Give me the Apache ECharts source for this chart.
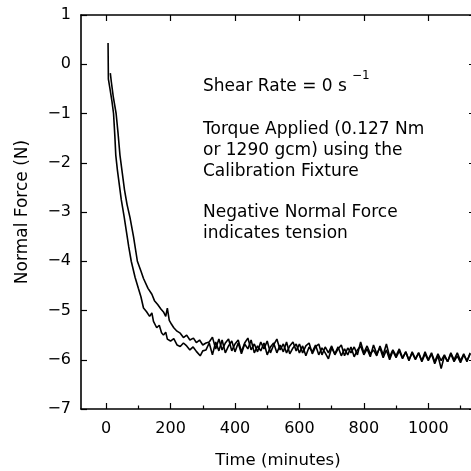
<!DOCTYPE html>
<html>
<head>
<meta charset="utf-8">
<script src="https://cdn.jsdelivr.net/npm/echarts@6/dist/echarts.min.js"></script>
<style>html,body{margin:0;padding:0;background:#fff;}#c{width:471px;height:471px;}</style>
</head>
<body>
<div id="c"></div>
<script>
// ---- Data ----
const xTicks = [0, 200, 400, 600, 800, 1000];
const xMinorTicks = [100, 300, 500, 700, 900, 1100];
const yTicks = [-7, -6, -5, -4, -3, -2, -1, 0, 1];

// Curve A: faster decay (lower curve during the transient)
const curveA = [
  [6,0.43],[7,-0.3],[12,-0.5],[18,-0.75],[23,-1.0],[27,-1.45],[30,-1.85],[35,-2.15],[40,-2.4],[47,-2.75],
  [56,-3.1],[63,-3.4],[70,-3.7],[78,-4.0],[90,-4.33],[100,-4.55],[108,-4.72],[116,-4.95],[125,-5.02],[135,-5.12],
  [142,-5.05],[147,-5.22],[157,-5.35],[165,-5.3],[172,-5.45],[178,-5.5],[185,-5.44],[190,-5.58],[200,-5.62],[210,-5.57],
  [220,-5.7],[230,-5.73],[240,-5.66],[250,-5.72],[260,-5.8],[270,-5.74],[280,-5.83],[292,-5.92],[300,-5.82],
  [310,-5.80],[320,-5.66],[330,-5.90],[340,-5.64],[350,-5.82],[360,-5.60],[370,-5.86],[380,-5.72],[390,-5.62],[400,-5.84],
  [410,-5.66],[420,-5.88],[430,-5.68],[440,-5.78],[450,-5.60],[460,-5.86],[470,-5.72],[480,-5.82],[490,-5.66],[500,-5.90],
  [510,-5.74],[520,-5.66],[530,-5.86],[540,-5.70],[550,-5.84],[560,-5.64],[570,-5.88],[580,-5.76],[590,-5.68],[600,-5.86],
  [610,-5.72],[620,-5.92],[630,-5.74],[640,-5.84],[650,-5.70],[660,-5.90],[670,-5.76],[680,-5.86],[690,-5.98],[700,-5.76],
  [710,-5.88],[720,-5.74],[730,-5.92],[740,-5.78],[750,-5.90],[760,-5.74],[770,-5.94],[780,-5.80],[790,-5.72],[800,-5.90],
  [810,-5.78],[820,-5.94],[830,-5.70],[840,-5.88],[850,-5.76],[860,-5.96],[870,-5.80],[880,-6.00],[890,-5.82],[900,-5.96],
  [910,-5.82],[920,-5.98],[930,-5.84],[940,-6.02],[950,-5.84],[960,-5.98],[970,-5.86],[980,-6.04],[990,-5.88],[1000,-6.02],
  [1010,-5.88],[1020,-6.08],[1030,-5.92],[1040,-6.18],[1050,-5.92],[1060,-6.04],[1070,-5.88],[1080,-6.04],[1090,-5.92],[1100,-6.06],
  [1110,-5.90],[1120,-6.02],[1130,-5.88]
];

// Curve B: slower decay (upper curve during the transient)
const curveB = [
  [13,-0.18],[16,-0.35],[22,-0.65],[31,-1.0],[37,-1.4],[43,-1.85],[50,-2.2],[57,-2.55],[65,-2.85],[74,-3.11],
  [85,-3.5],[97,-4.0],[108,-4.2],[116,-4.35],[130,-4.55],[142,-4.67],[150,-4.8],[160,-4.88],[170,-4.97],[178,-5.03],
  [185,-5.12],[190,-4.95],[196,-5.2],[203,-5.28],[210,-5.35],[220,-5.42],[230,-5.46],[240,-5.55],[250,-5.5],[260,-5.6],
  [271,-5.56],[280,-5.65],[290,-5.6],[300,-5.7],[310,-5.66],
  [320,-5.64],[330,-5.54],[340,-5.78],[350,-5.58],[360,-5.80],[370,-5.66],[380,-5.58],[390,-5.82],[400,-5.68],
  [410,-5.60],[420,-5.84],[430,-5.66],[440,-5.56],[450,-5.80],[460,-5.68],[470,-5.84],[480,-5.64],[490,-5.78],[500,-5.62],
  [510,-5.86],[520,-5.70],[530,-5.58],[540,-5.80],[550,-5.68],[560,-5.86],[570,-5.72],[580,-5.64],[590,-5.82],[600,-5.68],
  [610,-5.86],[620,-5.72],[630,-5.66],[640,-5.88],[650,-5.74],[660,-5.68],[670,-5.90],[680,-5.74],[690,-5.86],[700,-5.72],
  [710,-5.90],[720,-5.78],[730,-5.70],[740,-5.92],[750,-5.76],[760,-5.86],[770,-5.74],[780,-5.90],[790,-5.64],[800,-5.86],
  [810,-5.72],[820,-5.88],[830,-5.80],[840,-5.92],[850,-5.72],[860,-5.90],[870,-5.68],[880,-5.94],[890,-5.80],[900,-5.92],
  [910,-5.78],[920,-5.96],[930,-5.84],[940,-6.00],[950,-5.86],[960,-6.00],[970,-5.86],[980,-6.02],[990,-5.84],[1000,-6.00],
  [1010,-5.86],[1020,-6.04],[1030,-5.88],[1040,-6.02],[1050,-5.90],[1060,-6.04],[1070,-5.86],[1080,-6.00],[1090,-5.86],[1100,-6.02],
  [1110,-5.88],[1120,-6.04],[1130,-5.86]
];

const annotations = [
  'Torque Applied (0.127 Nm',
  'or 1290 gcm) using the',
  'Calibration Fixture'
];
const annotations2 = ['Negative Normal Force', 'indicates tension'];

// ---- Chart ----
const FONT = 'DejaVu Sans';
const X_MIN = -78, X_MAX = 1145;
const minus = v => String(v).replace('-', '\u2212');
const plain = v => String(v);
const black = '#000';

const chart = echarts.init(document.getElementById('c'), null, {renderer: 'canvas'});
chart.setOption({
  animation: false,
  backgroundColor: '#fff',
  textStyle: {fontFamily: FONT, color: black},
  grid: {left: 81, top: 15, right: -4, bottom: 62, containLabel: false, outerBoundsMode: 'none'},
  xAxis: [
    {
      type: 'value', min: X_MIN, max: X_MAX, position: 'bottom',
      name: 'Time (minutes)', nameLocation: 'middle', nameGap: 43,
      nameTextStyle: {fontFamily: FONT, fontSize: 16.5, color: black},
      axisLine: {show: true, onZero: false, lineStyle: {color: black, width: 1.6}},
      axisTick: {show: true, inside: true, length: 6, customValues: xTicks, lineStyle: {color: black, width: 1.2}},
      axisLabel: {show: true, customValues: xTicks, margin: 12, fontSize: 16, fontFamily: FONT, color: black, formatter: plain},
      splitLine: {show: false}
    },
    {
      type: 'value', min: X_MIN, max: X_MAX, position: 'bottom',
      axisLine: {show: false, onZero: false},
      axisTick: {show: true, inside: true, length: 3.5, customValues: xMinorTicks, lineStyle: {color: black, width: 1.2}},
      axisLabel: {show: false},
      splitLine: {show: false}
    },
    {
      type: 'value', min: X_MIN, max: X_MAX, position: 'top',
      axisLine: {show: true, onZero: false, lineStyle: {color: black, width: 1.6}},
      axisTick: {show: true, inside: true, length: 6, customValues: xTicks, lineStyle: {color: black, width: 1.2}},
      axisLabel: {show: false},
      splitLine: {show: false}
    }
  ],
  yAxis: [
    {
      type: 'value', min: -7, max: 1, interval: 1, position: 'left',
      name: 'Normal Force (N)', nameLocation: 'middle', nameGap: 50, nameRotate: 90,
      nameTextStyle: {fontFamily: FONT, fontSize: 17, color: black},
      axisLine: {show: true, onZero: false, lineStyle: {color: black, width: 1.6}},
      axisTick: {show: true, inside: true, length: 6, lineStyle: {color: black, width: 1.2}},
      axisLabel: {show: true, margin: 10, fontSize: 16, fontFamily: FONT, color: black, formatter: minus},
      splitLine: {show: false}
    },
    {
      type: 'value', min: -7, max: 1, interval: 1, position: 'right',
      axisLine: {show: true, onZero: false, lineStyle: {color: black, width: 1.6}},
      axisTick: {show: true, inside: true, length: 6, lineStyle: {color: black, width: 1.2}},
      axisLabel: {show: false},
      splitLine: {show: false}
    }
  ],
  graphic: [
    {type: 'text', left: 203, top: 78, style: {text: 'Shear Rate = 0 s', font: '17px "DejaVu Sans"', fill: black}},
    {type: 'text', left: 352, top: 70, style: {text: '\u22121', font: '12px "DejaVu Sans"', fill: black}},
    {type: 'text', left: 203, top: 119, style: {text: annotations.join('\n'), font: '17px "DejaVu Sans"', fill: black, lineHeight: 21}},
    {type: 'text', left: 203, top: 202, style: {text: annotations2.join('\n'), font: '17px "DejaVu Sans"', fill: black, lineHeight: 21}}
  ],
  series: [
    {type: 'line', xAxisIndex: 0, yAxisIndex: 0, data: curveA, showSymbol: false, symbol: 'none',
     lineStyle: {color: black, width: 1.6}, z: 3},
    {type: 'line', xAxisIndex: 0, yAxisIndex: 0, data: curveB, showSymbol: false, symbol: 'none',
     lineStyle: {color: black, width: 1.6}, z: 3}
  ]
});
</script>
</body>
</html>
